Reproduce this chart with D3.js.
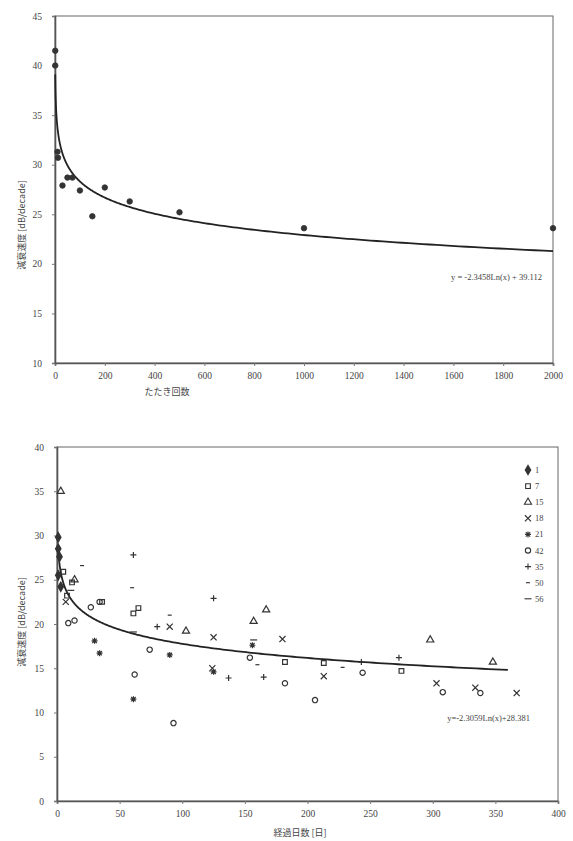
<!DOCTYPE html>
<html lang="ja">
<head>
  <meta charset="UTF-8" />
  <title>たたき回数・経過日数と減衰速度</title>
  <script src="https://cdn.jsdelivr.net/npm/d3@7/dist/d3.min.js"></script>
  <style>
    html, body { margin: 0; padding: 0; background: #fff; }
    svg { display: block; }
    .tick text { font-family: "Liberation Serif", serif; font-size: 9.5px; fill: #444; }
    .lbl { font-family: "Noto Sans CJK JP", sans-serif; font-size: 9px; fill: #444; }
    .eq { font-family: "Liberation Serif", serif; font-size: 8.5px; fill: #444; }
  </style>
</head>
<body>
<script>
// ---- top chart data: tapping count vs value ----
const tapCounts = [1, 1, 10, 12, 30, 50, 70, 100, 150, 200, 300, 500, 1000, 2000];
const tapValues = [41.5, 40.0, 31.3, 30.7, 27.9, 28.7, 28.7, 27.4, 24.8, 27.7, 26.3, 25.2, 23.6, 23.6];
const topXTicks = [0, 200, 400, 600, 800, 1000, 1200, 1400, 1600, 1800, 2000];
const topYTicks = [10, 15, 20, 25, 30, 35, 40, 45];
const topFit = { a: -2.3458, b: 39.112 };

// ---- bottom chart data: elapsed days per series ----
const seriesNames = ["1", "7", "15", "18", "21", "42", "35", "50", "56"];
const s1Days  = [1, 1, 2, 1, 3];
const s1Vals  = [29.8, 28.5, 27.6, 25.5, 24.2];
const s7Days  = [5, 12, 8, 65, 61, 36, 182, 213, 275];
const s7Vals  = [25.9, 24.7, 23.2, 21.8, 21.2, 22.5, 15.7, 15.6, 14.7];
const s15Days = [3, 14, 103, 167, 157, 298, 348];
const s15Vals = [35.0, 25.0, 19.2, 21.6, 20.3, 18.2, 15.7];
const s18Days = [7, 90, 124, 125, 180, 213, 303, 334, 367];
const s18Vals = [22.5, 19.7, 15.0, 18.5, 18.3, 14.1, 13.3, 12.8, 12.2];
const s21Days = [30, 34, 61, 90, 125, 156];
const s21Vals = [18.1, 16.7, 11.5, 16.5, 14.6, 17.6];
const s42Days = [9, 14, 27, 34, 62, 74, 93, 154, 182, 206, 244, 308, 338];
const s42Vals = [20.1, 20.4, 21.9, 22.5, 14.3, 17.1, 8.8, 16.2, 13.3, 11.4, 14.5, 12.3, 12.2];
const s35Days = [61, 80, 125, 137, 165, 243, 273];
const s35Vals = [27.8, 19.7, 22.9, 13.9, 14.0, 15.7, 16.2];
const s50Days = [20, 60, 90, 160, 228];
const s50Vals = [26.6, 24.1, 21.0, 15.4, 15.1];
const s56Days = [11, 61, 157];
const s56Vals = [23.8, 19.1, 18.2];
const bottomXTicks = [0, 50, 100, 150, 200, 250, 300, 350, 400];
const bottomYTicks = [0, 5, 10, 15, 20, 25, 30, 35, 40];
const bottomFit = { a: -2.3059, b: 28.381 };

const dayData = [
  [s1Days, s1Vals], [s7Days, s7Vals], [s15Days, s15Vals], [s18Days, s18Vals],
  [s21Days, s21Vals], [s42Days, s42Vals], [s35Days, s35Vals], [s50Days, s50Vals], [s56Days, s56Vals]
];

const W = 573, H = 841;
const svg = d3.select("body").append("svg").attr("width", W).attr("height", H);
const ink = "#333";

// marker shapes, Excel-ish order
const sym = (type, size) => d3.symbol().type(type).size(size)();
const markers = [
  { d: sym(d3.symbolDiamond, 26), fill: ink },
  { d: sym(d3.symbolSquare, 22), fill: "none" },
  { d: sym(d3.symbolTriangle, 22), fill: "none" },
  { d: sym(d3.symbolX, 26), fill: "none" },
  { d: "M-3,0H3M0,-3V3M-2.2,-2.2L2.2,2.2M-2.2,2.2L2.2,-2.2", fill: "none" },
  { d: sym(d3.symbolCircle, 22), fill: "none" },
  { d: "M-3,0H3M0,-3V3", fill: "none" },
  { d: "M-2,0H2", fill: "none" },
  { d: "M-3.5,0H3.5", fill: "none" }
];

function frame(g, x, y, xTicks, yTicks) {
  const [x0, x1] = x.range(), [y1, y0] = y.range();
  g.append("rect").attr("x", x0).attr("y", y0).attr("width", x1 - x0).attr("height", y1 - y0)
    .attr("fill", "none").attr("stroke", "#666").attr("stroke-width", 1);
  const ax = g.append("g").attr("transform", `translate(0,${y1})`)
    .call(d3.axisBottom(x).tickValues(xTicks).tickFormat(d3.format("d")).tickSize(3).tickPadding(6));
  const ay = g.append("g").attr("transform", `translate(${x0},0)`)
    .call(d3.axisLeft(y).tickValues(yTicks).tickFormat(d3.format("d")).tickSize(3).tickPadding(10));
  [ax, ay].forEach(a => {
    a.select(".domain").attr("stroke", "#555").attr("stroke-width", 1.6);
    a.selectAll(".tick line").attr("stroke", "#777");
  });
}

function fitPath(g, x, y, fit, from, to) {
  const pts = d3.range(0, 401).map(i => {
    const t = from * Math.pow(to / from, i / 400);
    return [t, fit.a * Math.log(t) + fit.b];
  });
  g.append("path")
    .attr("d", d3.line().x(d => x(d[0])).y(d => y(d[1]))(pts))
    .attr("fill", "none").attr("stroke", "#222").attr("stroke-width", 1.8);
}

// ---------------- top chart ----------------
{
  const x = d3.scaleLinear().domain([0, 2000]).range([55, 553]);
  const y = d3.scaleLinear().domain([10, 45]).range([363, 16]);
  const g = svg.append("g");
  frame(g, x, y, topXTicks, topYTicks);
  fitPath(g, x, y, topFit, 1, 2000);
  g.selectAll("path.pt").data(d3.zip(tapCounts, tapValues)).join("path")
    .attr("class", "pt")
    .attr("d", sym(d3.symbolCircle, 24))
    .attr("transform", d => `translate(${x(d[0])},${y(d[1])})`)
    .attr("fill", ink).attr("stroke", ink).attr("stroke-width", 0.8);
  g.append("text").attr("class", "eq").attr("x", 542).attr("y", 280).attr("text-anchor", "end")
    .text("y = -2.3458Ln(x) + 39.112");
  g.append("text").attr("class", "lbl").attr("x", 167).attr("y", 395).attr("text-anchor", "middle")
    .text("たたき回数");
  g.append("text").attr("class", "lbl")
    .attr("transform", "translate(25,225) rotate(-90)").attr("text-anchor", "middle")
    .text("減衰速度 [dB/decade]");
}

// ---------------- bottom chart ----------------
{
  const x = d3.scaleLinear().domain([0, 400]).range([57, 558]);
  const y = d3.scaleLinear().domain([0, 40]).range([801, 447]);
  const g = svg.append("g");
  frame(g, x, y, bottomXTicks, bottomYTicks);
  fitPath(g, x, y, bottomFit, 1, 360);

  dayData.forEach(([days, vals], i) => {
    const m = markers[i];
    g.append("g").selectAll("path").data(d3.zip(days, vals)).join("path")
      .attr("d", m.d)
      .attr("transform", d => `translate(${x(d[0])},${y(d[1])})`)
      .attr("fill", m.fill).attr("stroke", ink).attr("stroke-width", 1.2);
  });

  // legend
  const lg = g.append("g");
  seriesNames.forEach((name, i) => {
    const ly = 470 + i * 16.1;
    const m = markers[i];
    lg.append("path").attr("d", m.d).attr("transform", `translate(528,${ly})`)
      .attr("fill", m.fill).attr("stroke", ink).attr("stroke-width", 1.1);
    lg.append("text").attr("class", "eq").attr("x", 535).attr("y", ly + 3).text(name);
  });

  g.append("text").attr("class", "eq").attr("x", 530).attr("y", 721).attr("text-anchor", "end")
    .text("y=-2.3059Ln(x)+28.381");
  g.append("text").attr("class", "lbl").attr("x", 300).attr("y", 836).attr("text-anchor", "middle")
    .text("経過日数 [日]");
  g.append("text").attr("class", "lbl")
    .attr("transform", "translate(25,622) rotate(-90)").attr("text-anchor", "middle")
    .text("減衰速度 [dB/decade]");
}
</script>
</body>
</html>
